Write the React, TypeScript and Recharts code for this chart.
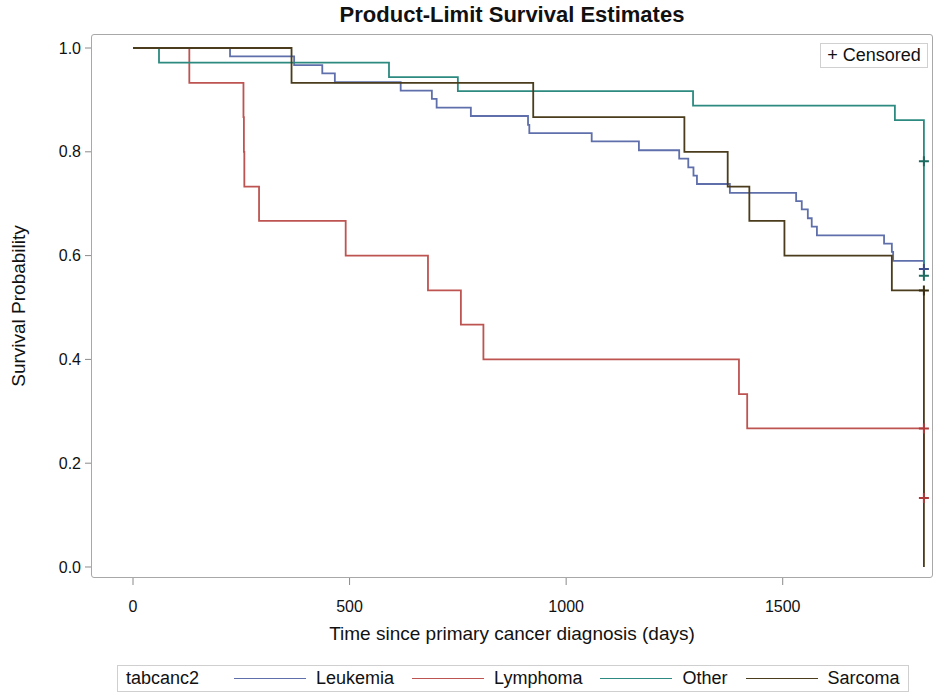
import { ComposedChart, Line, Scatter, XAxis, YAxis, Label } from "recharts";

const FONT = '"Liberation Sans", Arial, Helvetica, sans-serif';

// Kaplan-Meier step data (days, survival probability)
const leukemiaTimes = [0, 224, 372, 437, 466, 618, 690, 701, 780, 912, 915, 1059, 1168, 1261, 1282, 1294, 1302, 1378, 1531, 1544, 1558, 1567, 1579, 1734, 1752, 1755, 1826];
const leukemiaSurv = [1, 0.984, 0.967, 0.951, 0.934, 0.918, 0.902, 0.885, 0.869, 0.852, 0.836, 0.82, 0.803, 0.787, 0.77, 0.754, 0.738, 0.721, 0.705, 0.689, 0.672, 0.656, 0.639, 0.623, 0.607, 0.59, 0.574];

const lymphomaTimes = [0, 130, 255, 256, 257, 291, 491, 681, 757, 809, 1399, 1418, 1826];
const lymphomaSurv = [1, 0.933, 0.867, 0.8, 0.733, 0.667, 0.6, 0.533, 0.467, 0.4, 0.333, 0.267, 0.133];

const otherTimes = [0, 60, 591, 750, 1293, 1759, 1826];
const otherSurv = [1, 0.972, 0.944, 0.917, 0.889, 0.861, 0.561];

const sarcomaTimes = [0, 366, 924, 1273, 1373, 1423, 1504, 1752, 1826];
const sarcomaSurv = [1, 0.933, 0.867, 0.8, 0.733, 0.667, 0.6, 0.533, 0];

// censored observations (all at the end of follow-up)
const censorTime = 1826;
const leukemiaCensored = [0.574];
const lymphomaCensored = [0.267, 0.133];
const otherCensored = [0.782, 0.561];
const sarcomaCensored = [0.533];

const xTicks = [0, 500, 1000, 1500];
const yTicks = [0, 0.2, 0.4, 0.6, 0.8, 1.0];

const toPoints = (times: number[], surv: number[]) =>
  times.map((t, i) => ({ t, s: surv[i] }));
const toCensor = (surv: number[]) => surv.map((s) => ({ t: censorTime, s }));

const series = [
  { name: "Leukemia", color: "#5f6fab", mark: "#3d4c8a", steps: toPoints(leukemiaTimes, leukemiaSurv), censored: toCensor(leukemiaCensored) },
  { name: "Lymphoma", color: "#bd5451", mark: "#b03a3a", steps: toPoints(lymphomaTimes, lymphomaSurv), censored: toCensor(lymphomaCensored) },
  { name: "Other", color: "#2c8a80", mark: "#1c6b60", steps: toPoints(otherTimes, otherSurv), censored: toCensor(otherCensored) },
  { name: "Sarcoma", color: "#4a3c1c", mark: "#3a2e12", steps: toPoints(sarcomaTimes, sarcomaSurv), censored: toCensor(sarcomaCensored) },
];

const plusShape = (color: string) => (props: any) => {
  const { cx, cy } = props;
  if (cx == null || cy == null) return <g />;
  return (
    <path
      d={`M${cx - 5},${cy}h10M${cx},${cy - 5}v10`}
      stroke={color}
      strokeWidth={2}
      fill="none"
    />
  );
};

const YTitle = (props: any) => {
  const { viewBox } = props;
  const cx = viewBox.x + 18;
  const cy = viewBox.y + viewBox.height / 2;
  return (
    <text
      x={cx}
      y={cy}
      transform={`rotate(-90 ${cx} ${cy})`}
      textAnchor="middle"
      dominantBaseline="central"
      fontSize={19}
      fontFamily={FONT}
      fill="#111"
    >
      Survival Probability
    </text>
  );
};

export default function App() {
  return (
    <div
      style={{
        position: "absolute",
        left: 0,
        top: 0,
        width: 945,
        height: 696,
        background: "#fff",
        fontFamily: FONT,
        color: "#111",
      }}
    >
      <div
        style={{
          position: "absolute",
          left: 91,
          top: 3,
          width: 842,
          textAlign: "center",
          fontSize: 22,
          lineHeight: "24px",
          fontWeight: "bold",
        }}
      >
        Product-Limit Survival Estimates
      </div>

      <ComposedChart
        width={945}
        height={696}
        margin={{ top: 34, right: 12, bottom: 56, left: 0 }}
        style={{ position: "absolute", left: 0, top: 0 }}
      >
        <XAxis
          dataKey="t"
          type="number"
          domain={[-97, 1847]}
          ticks={xTicks}
          allowDataOverflow
          axisLine={false}
          tickLine={{ stroke: "#8a8a8a" }}
          tickSize={7}
          tickMargin={16}
          height={62}
          tick={{ fontSize: 16, fill: "#111", fontFamily: FONT }}
        >
          <Label
            value="Time since primary cancer diagnosis (days)"
            position="insideBottom"
            offset={0}
            style={{ fontSize: 19, fill: "#111", fontFamily: FONT }}
          />
        </XAxis>
        <YAxis
          dataKey="s"
          type="number"
          domain={[-0.0212, 1.027]}
          ticks={yTicks}
          allowDataOverflow
          axisLine={false}
          tickLine={{ stroke: "#8a8a8a" }}
          tickSize={6}
          tickMargin={4}
          width={91}
          tickFormatter={(v: number) => v.toFixed(1)}
          tick={{ fontSize: 16, fill: "#111", fontFamily: FONT }}
        >
          <Label content={<YTitle />} />
        </YAxis>

        {series.map((s) => (
          <Line
            key={s.name}
            data={s.steps}
            dataKey="s"
            type="stepAfter"
            stroke={s.color}
            strokeWidth={1.8}
            dot={false}
            activeDot={false}
            isAnimationActive={false}
          />
        ))}
        {series.map((s) => (
          <Scatter
            key={`${s.name}-censored`}
            data={s.censored}
            dataKey="s"
            shape={plusShape(s.mark)}
            isAnimationActive={false}
          />
        ))}
      </ComposedChart>

      {/* plot frame */}
      <div
        style={{
          position: "absolute",
          left: 91,
          top: 34,
          width: 842,
          height: 544,
          boxSizing: "border-box",
          border: "1.5px solid #a8a8a8",
          borderRadius: 3,
          pointerEvents: "none",
        }}
      />

      {/* inset censored key */}
      <div
        style={{
          position: "absolute",
          left: 820,
          top: 43,
          width: 108,
          height: 25,
          boxSizing: "border-box",
          border: "1px solid #d0d0d0",
          fontSize: 18,
          lineHeight: "23px",
          textAlign: "center",
        }}
      >
        + Censored
      </div>

      {/* group legend */}
      <div
        style={{
          position: "absolute",
          left: 117,
          top: 665,
          width: 792,
          height: 27,
          boxSizing: "border-box",
          border: "1px solid #cfcfcf",
          display: "flex",
          alignItems: "center",
          paddingLeft: 8,
          fontSize: 18,
          whiteSpace: "nowrap",
        }}
      >
        <span style={{ marginRight: 17 }}>tabcanc2</span>
        {series.map((s) => (
          <span
            key={s.name}
            style={{ display: "flex", alignItems: "center", marginLeft: 18 }}
          >
            <span
              style={{
                display: "inline-block",
                width: 72,
                height: 0,
                borderTop: `1.6px solid ${s.color}`,
                marginRight: 10,
              }}
            />
            {s.name}
          </span>
        ))}
      </div>
    </div>
  );
}
